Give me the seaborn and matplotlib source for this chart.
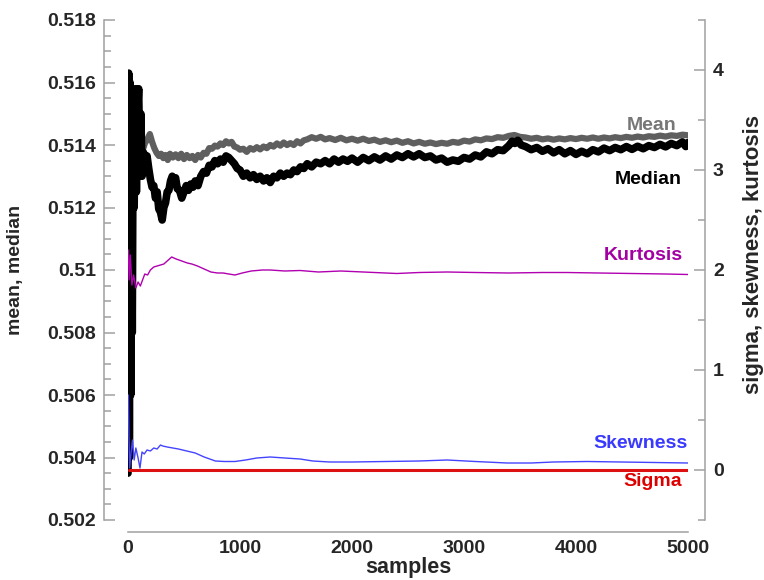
import matplotlib
matplotlib.use('Agg')
import matplotlib.pyplot as plt
import seaborn as sns
from matplotlib.ticker import MultipleLocator, FuncFormatter

# running statistics (left axis: mean / median)
mean_x = [0, 30, 60, 90, 120, 150, 175, 195, 215, 235, 255, 275, 295, 315, 335, 355, 375,
          400, 425, 450, 475, 500, 525, 550, 575, 600, 625, 650, 675, 700, 725, 750, 775,
          800, 825, 850, 875, 900, 925, 950, 975, 1000, 1030, 1060, 1090, 1120, 1150,
          1180, 1210, 1240, 1270, 1300, 1330, 1360, 1390, 1420, 1450, 1480, 1510, 1540,
          1570, 1600, 1640, 1680, 1720, 1760, 1800, 1850, 1900, 1950, 2000, 2050, 2100,
          2150, 2200, 2250, 2300, 2350, 2400, 2450, 2500, 2550, 2600, 2650, 2700, 2750,
          2800, 2850, 2900, 2950, 3000, 3050, 3100, 3150, 3200, 3250, 3300, 3350, 3400,
          3450, 3500, 3550, 3600, 3650, 3700, 3750, 3800, 3850, 3900, 3950, 4000, 4050,
          4100, 4150, 4200, 4250, 4300, 4350, 4400, 4450, 4500, 4550, 4600, 4650, 4700,
          4750, 4800, 4850, 4900, 4950, 5000]
mean_y = [0.51500, 0.51400, 0.51380, 0.51390, 0.51370, 0.51405, 0.51420, 0.51435, 0.51410,
          0.51390, 0.51375, 0.51365, 0.51372, 0.51358, 0.51368, 0.51352, 0.51372, 0.51360,
          0.51370, 0.51358, 0.51372, 0.51355, 0.51368, 0.51358, 0.51365, 0.51352, 0.51368,
          0.51360, 0.51375, 0.51372, 0.51390, 0.51388, 0.51398, 0.51395, 0.51405, 0.51400,
          0.51412, 0.51405, 0.51410, 0.51395, 0.51392, 0.51385, 0.51388, 0.51378, 0.51390,
          0.51385, 0.51393, 0.51386, 0.51395, 0.51390, 0.51400, 0.51395, 0.51405, 0.51398,
          0.51408, 0.51400, 0.51406, 0.51400, 0.51412, 0.51405, 0.51415, 0.51418, 0.51425,
          0.51420, 0.51426, 0.51418, 0.51422, 0.51416, 0.51423, 0.51415, 0.51420, 0.51414,
          0.51420, 0.51413, 0.51417, 0.51410, 0.51415, 0.51409, 0.51414, 0.51407, 0.51412,
          0.51405, 0.51410, 0.51404, 0.51408, 0.51403, 0.51407, 0.51404, 0.51410, 0.51407,
          0.51414, 0.51411, 0.51418, 0.51415, 0.51421, 0.51419, 0.51425, 0.51423, 0.51429,
          0.51432, 0.51426, 0.51424, 0.51420, 0.51423, 0.51418, 0.51421, 0.51417, 0.51421,
          0.51418, 0.51422, 0.51419, 0.51423, 0.51420, 0.51424, 0.51420, 0.51424, 0.51421,
          0.51425, 0.51422, 0.51426, 0.51423, 0.51427, 0.51424, 0.51428, 0.51426, 0.51430,
          0.51427, 0.51431, 0.51429, 0.51433, 0.51431]

median_x = [0, 6, 12, 18, 24, 30, 38, 46, 55, 65, 75, 85, 95, 105, 115, 125, 140, 155,
            170, 185, 200, 215, 230, 245, 260, 275, 290, 305, 320, 335, 350, 365, 380, 395,
            410, 425, 440, 460, 480, 500, 520, 540, 560, 580, 600, 625, 650, 675, 700, 725,
            750, 775, 800, 825, 850, 875, 900, 925, 950, 975, 1000, 1030, 1060, 1090, 1120,
            1150, 1180, 1210, 1240, 1270, 1300, 1330, 1360, 1390, 1420, 1450, 1480, 1510,
            1540, 1570, 1600, 1640, 1680, 1720, 1760, 1800, 1840, 1880, 1920, 1960, 2000,
            2050, 2100, 2150, 2200, 2250, 2300, 2350, 2400, 2450, 2500, 2550, 2600, 2650,
            2700, 2750, 2800, 2850, 2900, 2950, 3000, 3050, 3100, 3150, 3200, 3250, 3300,
            3350, 3400, 3430, 3455, 3480, 3510, 3550, 3600, 3650, 3700, 3750, 3800, 3850,
            3900, 3950, 4000, 4050, 4100, 4150, 4200, 4250, 4300, 4350, 4400, 4450, 4500,
            4550, 4600, 4650, 4700, 4750, 4800, 4850, 4900, 4950, 4980, 5000]
median_y = [0.50350, 0.51630, 0.50400, 0.51600, 0.50600, 0.51580, 0.50800, 0.51500, 0.51200,
            0.51580, 0.51250, 0.51500, 0.51580, 0.51350, 0.51500, 0.51300, 0.51375, 0.51330,
            0.51365, 0.51325, 0.51290, 0.51265, 0.51270, 0.51230, 0.51250, 0.51195, 0.51185,
            0.51160, 0.51200, 0.51215, 0.51250, 0.51255, 0.51285, 0.51300, 0.51290, 0.51295,
            0.51260, 0.51255, 0.51230, 0.51250, 0.51270, 0.51255, 0.51275, 0.51265, 0.51285,
            0.51270, 0.51300, 0.51315, 0.51310, 0.51335, 0.51330, 0.51350, 0.51340, 0.51355,
            0.51345, 0.51365, 0.51360, 0.51350, 0.51340, 0.51325, 0.51320, 0.51300, 0.51310,
            0.51295, 0.51305, 0.51290, 0.51300, 0.51285, 0.51295, 0.51280, 0.51300, 0.51295,
            0.51310, 0.51300, 0.51310, 0.51305, 0.51320, 0.51315, 0.51330, 0.51325, 0.51340,
            0.51330, 0.51345, 0.51340, 0.51350, 0.51340, 0.51355, 0.51345, 0.51355, 0.51348,
            0.51358, 0.51345, 0.51360, 0.51350, 0.51362, 0.51352, 0.51365, 0.51355, 0.51368,
            0.51360, 0.51372, 0.51362, 0.51372, 0.51360, 0.51365, 0.51352, 0.51358, 0.51345,
            0.51352, 0.51348, 0.51360, 0.51355, 0.51368, 0.51362, 0.51378, 0.51372, 0.51385,
            0.51382, 0.51398, 0.51412, 0.51405, 0.51415, 0.51400, 0.51395, 0.51385, 0.51392,
            0.51380, 0.51388, 0.51375, 0.51385, 0.51372, 0.51382, 0.51370, 0.51380, 0.51372,
            0.51385, 0.51378, 0.51390, 0.51382, 0.51392, 0.51385, 0.51395, 0.51386, 0.51396,
            0.51388, 0.51398, 0.51392, 0.51402, 0.51394, 0.51405, 0.51398, 0.51410, 0.51395,
            0.51408]

# right axis: kurtosis, skewness, sigma
kurt_x = [3, 10, 20, 35, 50, 70, 90, 110, 130, 150, 175, 200, 230, 260, 290, 320, 350,
          390, 430, 480, 530, 570, 620, 680, 740, 800, 850, 900, 955, 1020, 1100, 1200,
          1270, 1400, 1536, 1700, 1900, 2100, 2300, 2400, 2600, 2850, 3100, 3400, 3700,
          3920, 4200, 4500, 4800, 5000]
kurt_y = [2.20, 1.90, 2.15, 1.85, 1.95, 1.82, 1.88, 1.84, 1.90, 1.96, 1.95, 2.00, 2.03,
          2.04, 2.05, 2.06, 2.09, 2.13, 2.11, 2.09, 2.07, 2.06, 2.04, 2.01, 1.98, 1.97,
          1.97, 1.96, 1.95, 1.97, 1.99, 2.00, 2.00, 1.99, 1.995, 1.98, 1.99, 1.98, 1.97,
          1.965, 1.975, 1.98, 1.975, 1.97, 1.975, 1.975, 1.97, 1.965, 1.96, 1.955]

skew_x = [3, 8, 15, 25, 40, 55, 70, 90, 107, 125, 145, 170, 200, 230, 260, 290, 310,
          350, 400, 450, 525, 600, 680, 780, 860, 955, 1050, 1150, 1270, 1400, 1536,
          1650, 1800, 2000, 2300, 2600, 2850, 3100, 3384, 3600, 3800, 4100, 4400, 4700,
          5000]
skew_y = [0.75, 0.35, 0.02, 0.15, 0.30, 0.10, 0.22, 0.12, 0.02, 0.18, 0.16, 0.20, 0.19,
          0.22, 0.21, 0.25, 0.24, 0.23, 0.22, 0.21, 0.19, 0.17, 0.13, 0.09, 0.085, 0.085,
          0.10, 0.12, 0.13, 0.12, 0.11, 0.09, 0.08, 0.08, 0.085, 0.09, 0.10, 0.085, 0.07,
          0.07, 0.08, 0.085, 0.08, 0.075, 0.07]

sigma_x = [5, 1000, 2000, 3000, 4000, 5000]
sigma_y = [0.0, 0.0, 0.0, 0.0, 0.0, 0.0]

sns.set_style('white')
plt.rcParams['font.family'] = ['Liberation Sans', 'DejaVu Sans']
plt.rcParams['font.weight'] = 'bold'

spine_col = '#a0a0a0'

fig = plt.figure(figsize=(7.64, 5.80), dpi=100)
ax = fig.add_axes([128 / 764, 60 / 580, 560 / 764, 500 / 580])
ax2 = ax.twinx()

sns.lineplot(x=mean_x, y=mean_y, ax=ax, color='#5f5f5f', linewidth=4.5, zorder=2)
sns.lineplot(x=median_x, y=median_y, ax=ax, color='black', linewidth=5.5, zorder=3)

sns.lineplot(x=kurt_x, y=kurt_y, ax=ax2, color='#b000b0', linewidth=1.0)
sns.lineplot(x=skew_x, y=skew_y, ax=ax2, color='#4444ff', linewidth=1.0)
sns.lineplot(x=sigma_x, y=sigma_y, ax=ax2, color='#dd1111', linewidth=2.2)

ax.set_xlim(0, 5000)
ax.set_ylim(0.502, 0.518)
ax2.set_ylim(-0.5, 4.5)

# offset spines, grey, only left / bottom / right
for a in (ax, ax2):
    for s in a.spines.values():
        s.set_visible(False)
        s.set_color(spine_col)
        s.set_linewidth(1.1)
ax.spines['left'].set_visible(True)
ax.spines['left'].set_position(('outward', 17))
ax.spines['bottom'].set_visible(True)
ax.spines['bottom'].set_position(('outward', 8.5))
ax2.spines['right'].set_visible(True)
ax2.spines['right'].set_position(('outward', 12))

ax.xaxis.set_major_locator(MultipleLocator(1000))
ax.xaxis.set_minor_locator(MultipleLocator(500))
ax.yaxis.set_major_locator(MultipleLocator(0.002))
ax.yaxis.set_minor_locator(MultipleLocator(0.0005))
ax2.yaxis.set_major_locator(MultipleLocator(1))
ax2.yaxis.set_minor_locator(MultipleLocator(0.5))
ax.yaxis.set_major_formatter(FuncFormatter(lambda v, p: f'{v:.3f}'.rstrip('0')))
ax.xaxis.set_major_formatter(FuncFormatter(lambda v, p: f'{v:.0f}'))
ax2.yaxis.set_major_formatter(FuncFormatter(lambda v, p: f'{v:.0f}'))

ax.tick_params(axis='both', which='major', direction='in', length=8, width=1.1,
               color=spine_col, labelsize=14, pad=6)
ax.tick_params(axis='both', which='minor', direction='in', length=5, width=1.1,
               color=spine_col)
ax2.tick_params(axis='y', which='major', direction='in', length=8, width=1.1,
                color=spine_col, labelsize=14, pad=6)
ax2.tick_params(axis='y', which='minor', direction='in', length=5, width=1.1,
                color=spine_col)
for lab in ax.get_xticklabels() + ax.get_yticklabels() + ax2.get_yticklabels():
    lab.set_fontweight('bold')

ax.set_xlabel('samples', fontsize=15.5, fontweight='bold')
ax.set_ylabel('mean, median', fontsize=14, fontweight='bold')
ax2.set_ylabel('sigma, skewness, kurtosis', fontsize=16, fontweight='bold')
ax.xaxis.set_label_coords(0.5, -0.074)
ax.yaxis.set_label_coords(-0.186, 0.5)
ax2.yaxis.set_label_coords(1.098, 0.53)

# inline series labels
ax.text(4900, 0.51463, 'Mean', color='#777777', fontsize=14, fontweight='bold',
        ha='right', va='center')
ax.text(4946, 0.51290, 'Median', color='black', fontsize=14, fontweight='bold',
        ha='right', va='center')
ax2.text(4955, 2.145, 'Kurtosis', color='#a300a3', fontsize=14, fontweight='bold',
         ha='right', va='center')
ax2.text(5000, 0.26, 'Skewness', color='#3a3aff', fontsize=14, fontweight='bold',
         ha='right', va='center')
ax2.text(4946, -0.12, 'Sigma', color='#dd0000', fontsize=14, fontweight='bold',
         ha='right', va='center')

fig.savefig('out.png', dpi=100)
